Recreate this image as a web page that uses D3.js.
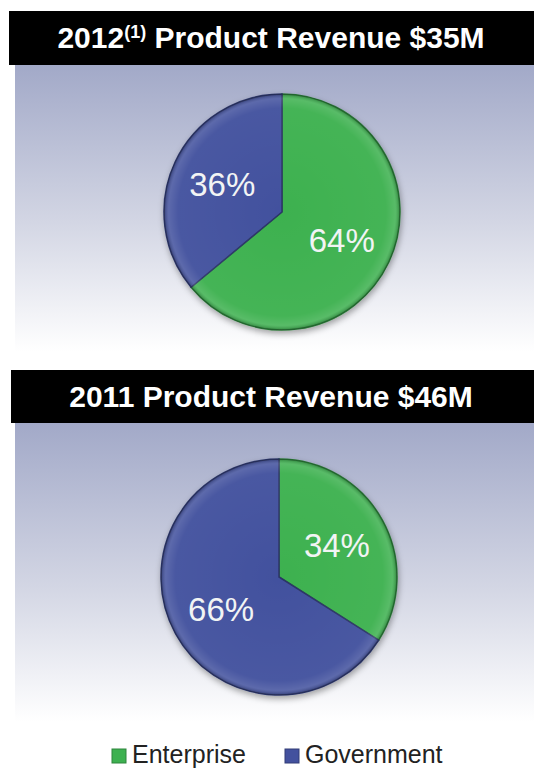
<!DOCTYPE html>
<html>
<head>
<meta charset="utf-8">
<script src="https://cdn.jsdelivr.net/npm/d3@7"></script>
<style>
  body { margin: 0; background: #fff; }
  svg { display: block; font-family: "Liberation Sans", Arial, sans-serif; }
</style>
</head>
<body>
<div id="chart"></div>
<script>
const width = 534;
const height = 769;

// data
const categories = ["Enterprise", "Government"];
const colors = ["#3db150", "#43519e"];
const years = ["2012", "2011"];
const yearNotes = ["(1)", ""];
const totals = ["$35M", "$46M"];
const share2012 = [64, 36];
const share2011 = [34, 66];
const shares = [share2012, share2011];

// layout of the two panels
const panels = [
  { barTop: 11, barH: 54, bgTop: 65, bgBottom: 352, cx: 282, cy: 212 },
  { barTop: 370, barH: 53, bgTop: 423, bgBottom: 722, cx: 279, cy: 577 }
];
const radius = 118;

let svg = d3.select("#chart")
  .append("svg")
  .attr("width", width)
  .attr("height", height);

let defs = svg.append("defs");

let bgGrad = defs.append("linearGradient")
  .attr("id", "bgGrad")
  .attr("x1", 0).attr("y1", 0).attr("x2", 0).attr("y2", 1);
bgGrad.append("stop").attr("offset", "0%").attr("stop-color", "#a2a9c8");
bgGrad.append("stop").attr("offset", "55%").attr("stop-color", "#d3d6e4");
bgGrad.append("stop").attr("offset", "100%").attr("stop-color", "#ffffff");

let shadow = defs.append("filter")
  .attr("id", "shadow")
  .attr("x", "-20%").attr("y", "-20%").attr("width", "140%").attr("height", "140%");
shadow.append("feDropShadow")
  .attr("dx", 1).attr("dy", 3)
  .attr("stdDeviation", 3)
  .attr("flood-color", "#000")
  .attr("flood-opacity", 0.35);

// soft bevel sheen on top of each slice
let sheen = defs.append("radialGradient")
  .attr("id", "sheen")
  .attr("cx", "50%").attr("cy", "50%").attr("r", "50%");
sheen.append("stop").attr("offset", "0%").attr("stop-color", "#fff").attr("stop-opacity", 0);
sheen.append("stop").attr("offset", "88%").attr("stop-color", "#fff").attr("stop-opacity", 0.04);
sheen.append("stop").attr("offset", "96%").attr("stop-color", "#fff").attr("stop-opacity", 0.14);
sheen.append("stop").attr("offset", "100%").attr("stop-color", "#000").attr("stop-opacity", 0.25);

let color = d3.scaleOrdinal().domain(categories).range(colors);

let pie = d3.pie()
  .sort(null)
  .value(d => d.value);

let arc = d3.arc()
  .innerRadius(0)
  .outerRadius(radius);

let labelArc = d3.arc()
  .innerRadius(radius * 0.56)
  .outerRadius(radius * 0.56);

panels.forEach((p, k) => {
  // gradient background panel
  svg.append("rect")
    .attr("x", 15)
    .attr("y", p.bgTop)
    .attr("width", width - 15)
    .attr("height", p.bgBottom - p.bgTop)
    .attr("fill", "url(#bgGrad)");

  // black title bar
  svg.append("rect")
    .attr("x", 9 + k * 2)
    .attr("y", p.barTop)
    .attr("width", width - 9 - k * 2)
    .attr("height", p.barH)
    .attr("fill", "#000");

  let title = svg.append("text")
    .attr("x", 271)
    .attr("y", p.barTop + p.barH / 2 + 10)
    .attr("text-anchor", "middle")
    .attr("fill", "#fff")
    .style("font-size", "30px")
    .style("font-weight", "bold");
  title.append("tspan").text(years[k]);
  if (yearNotes[k]) {
    title.append("tspan")
      .attr("dy", -10)
      .style("font-size", "18px")
      .text(yearNotes[k]);
    title.append("tspan")
      .attr("dy", 10)
      .text(" Product Revenue " + totals[k]);
  } else {
    title.append("tspan").text(" Product Revenue " + totals[k]);
  }

  let data = categories.map((c, i) => ({ name: c, value: shares[k][i] }));
  let g = svg.append("g")
    .attr("transform", "translate(" + p.cx + "," + p.cy + ")");

  let slices = g.append("g").attr("filter", "url(#shadow)");
  slices.selectAll("path.slice")
    .data(pie(data))
    .enter()
    .append("path")
    .attr("class", "slice")
    .attr("d", arc)
    .attr("fill", d => color(d.data.name))
    .attr("stroke", d => d3.color(color(d.data.name)).darker(1.2))
    .attr("stroke-width", 1.5);

  g.append("circle")
    .attr("r", radius)
    .attr("fill", "url(#sheen)")
    .attr("pointer-events", "none");

  g.selectAll("text.pct")
    .data(pie(data))
    .enter()
    .append("text")
    .attr("class", "pct")
    .attr("transform", d => "translate(" + labelArc.centroid(d) + ")")
    .attr("dy", "0.36em")
    .attr("text-anchor", "middle")
    .attr("fill", "#f2f4f4")
    .style("font-size", "33px")
    .text(d => d.data.value + "%");
});

// legend
const legendX = [112, 285];
let legend = svg.selectAll("g.legend")
  .data(categories)
  .enter()
  .append("g")
  .attr("class", "legend")
  .attr("transform", (d, i) => "translate(" + legendX[i] + ",749)");
legend.append("rect")
  .attr("width", 14)
  .attr("height", 14)
  .attr("fill", d => color(d))
  .attr("stroke", d => d3.color(color(d)).darker(0.8))
  .attr("stroke-width", 1);
legend.append("text")
  .attr("x", 20)
  .attr("y", 14)
  .attr("fill", "#222")
  .style("font-size", "25px")
  .text(d => d);
</script>
</body>
</html>
